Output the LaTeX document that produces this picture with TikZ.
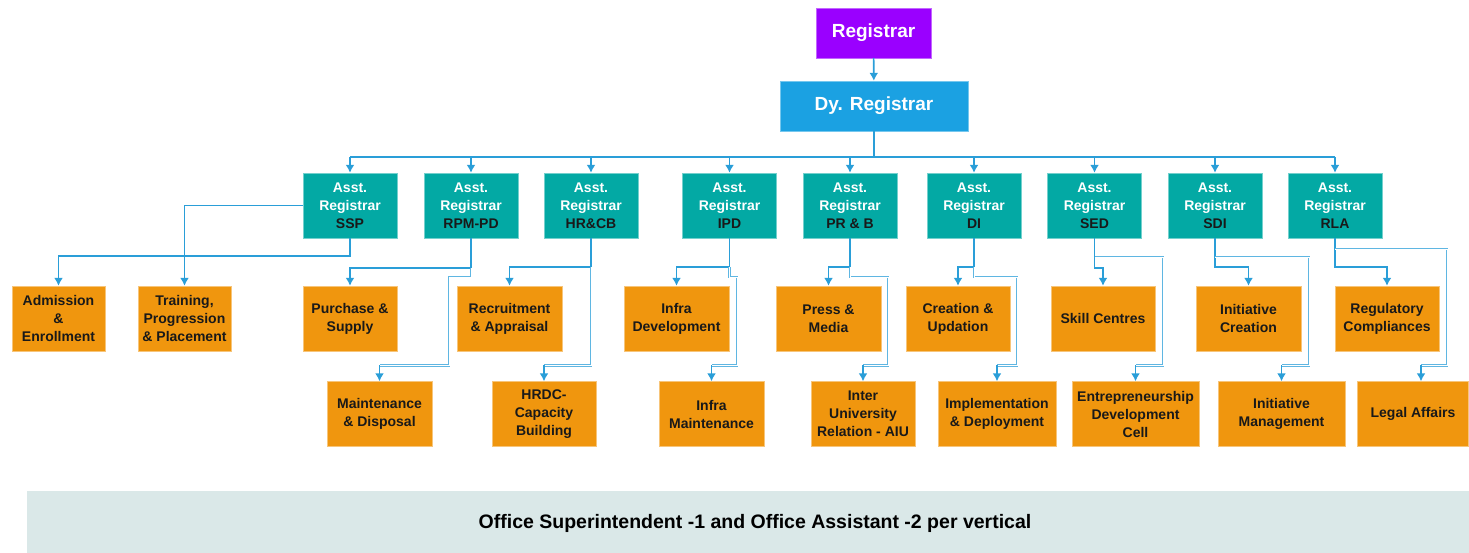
\documentclass[tikz,border=0pt]{standalone}
\usepackage{fontspec}
\setmainfont{Liberation Sans}
\usetikzlibrary{arrows.meta}

\definecolor{regpurple}{HTML}{9A00FF}
\definecolor{dyblue}{HTML}{1BA1E2}
\definecolor{asstteal}{HTML}{03A9A4}
\definecolor{unitorange}{HTML}{F0960E}
\definecolor{linkblue}{HTML}{2A9ED8}
\definecolor{bannergrey}{HTML}{DAE8E8}

\begin{document}
\begin{tikzpicture}[x = 1pt, y = -1pt, > = {Latex[length = 8pt, width = 9pt]},
	topbox/.style = {draw = #1!60!white, fill = #1, text = white, inner sep = 0pt, minimum height = 50pt, font = \bfseries\fontsize{19}{22}\selectfont},
	asst/.style = {draw = asstteal!55!white, fill = asstteal, text = white, align = center, inner sep = 0pt, minimum width = 94pt, minimum height = 65pt, font = \bfseries\fontsize{14}{18}\selectfont},
	unit/.style = {draw = unitorange!55!white, fill = unitorange, text = black!90, align = center, inner sep = 0pt, minimum height = 65pt, font = \bfseries\fontsize{14}{18}\selectfont},
	link/.style = {draw = linkblue, line width = 1.6pt},
	feed/.style = {draw = linkblue!75!white, double = white, double distance = 0.8pt, line width = 0.8pt}]

	\useasboundingbox (0, 0) rectangle (1469, 553);

	% Registrar and deputy
	
	\node [topbox = regpurple, minimum width = 115pt] (registrar) at (873.5, 33) {Registrar};
	\node [topbox = dyblue, minimum width = 188pt] (dyreg) at (874, 106) {Dy. Registrar};
	
	\draw [link, ->] (registrar) -- (dyreg);

	% Assistant registrars
	
	\foreach \id/\code/\x in {ssp/SSP/350, rpm/RPM-PD/471, hrcb/HR\&CB/591, ipd/IPD/729.5, prb/PR \& B/850, di/DI/974, sed/SED/1094.5, sdi/SDI/1215, rla/RLA/1335}
	{
		\node [asst] (\id) at (\x, 205.5) {Asst.\\Registrar\\{\color{black!90}\code}};
	}
	
	\coordinate (bus) at (0, 157);
	
	\draw [link] (dyreg.south) -- (dyreg.south |- bus);
	\draw [link] (ssp.north |- bus) -- (rla.north |- bus);
	
	\foreach \id in {ssp, rpm, hrcb, ipd, prb, di, sed, sdi, rla}
	{
		\draw [link, ->] (\id.north |- bus) -- (\id.north);
	}

	% Sections, first row
	
	\node [unit, minimum width = 93pt] (admission) at (58.5, 318.5) {Admission\\\&\\Enrollment};
	\node [unit, minimum width = 93pt] (training) at (184.5, 318.5) {Training,\\Progression\\\& Placement};
	\node [unit, minimum width = 94pt] (purchase) at (350, 318.5) {Purchase \&\\Supply};
	\node [unit, minimum width = 105pt] (recruit) at (509.5, 318.5) {Recruitment\\\& Appraisal};
	\node [unit, minimum width = 105pt] (infradev) at (676.5, 318.5) {Infra\\Development};
	\node [unit, minimum width = 105pt] (press) at (828.5, 318.5) {Press \&\\Media};
	\node [unit, minimum width = 104pt] (creation) at (958, 318.5) {Creation \&\\Updation};
	\node [unit, minimum width = 104pt] (skill) at (1103, 318.5) {Skill Centres};
	\node [unit, minimum width = 105pt] (initcreate) at (1248.5, 318.5) {Initiative\\Creation};
	\node [unit, minimum width = 104pt] (regulatory) at (1387, 318.5) {Regulatory\\Compliances};

	% Sections, second row
	
	\node [unit, minimum width = 105pt] (maintain) at (379.5, 414) {Maintenance\\\& Disposal};
	\node [unit, minimum width = 104pt] (hrdc) at (544, 414) {HRDC-\\Capacity\\Building};
	\node [unit, minimum width = 105pt] (inframaint) at (711.5, 414) {Infra\\Maintenance};
	\node [unit, minimum width = 104pt] (interuni) at (863, 414) {Inter\\University\\Relation - AIU};
	\node [unit, minimum width = 118pt] (implement) at (997, 414) {Implementation\\\& Deployment};
	\node [unit, minimum width = 127pt] (entre) at (1135.5, 414) {Entrepreneurship\\Development\\Cell};
	\node [unit, minimum width = 127pt] (initmgmt) at (1281.5, 414) {Initiative\\Management};
	\node [unit, minimum width = 111pt] (legal) at (1413, 414) {Legal Affairs};

	% Links to the first row
	
	\draw [link, ->] (ssp.west) -| (training.north);
	\draw [link, ->] (ssp.south) -- ++(0, 18) -| (admission.north);
	\draw [link, ->] (rpm.south) -- ++(0, 30) -| (purchase.north);
	\draw [link, ->] (hrcb.south) -- ++(0, 29) -| (recruit.north);
	\draw [link, ->] (ipd.south) -- ++(0, 29) -| (infradev.north);
	\draw [link, ->] (prb.south) -- ++(0, 29) -| (press.north);
	\draw [link, ->] (di.south) -- ++(0, 29) -| (creation.north);
	\draw [link, ->] (sed.south) -- ++(0, 30) -| (skill.north);
	\draw [link, ->] (sdi.south) -- ++(0, 29) -| (initcreate.north);
	\draw [link, ->] (rla.south) -- ++(0, 29) -| (regulatory.north);

	% Links to the second row
	
	\draw [feed] (rpm.south) ++(0, 30) -- ++(0, 9) -- ++(-22, 0) |- ([yshift = 16pt] maintain.north);
	\draw [feed] (hrcb.south) ++(0, 29) |- ([yshift = 16pt] hrdc.north);
	\draw [feed] (ipd.south) ++(0, 29) -- ++(0, 10) -- ++(7.5, 0) |- ([yshift = 16pt] inframaint.north);
	\draw [feed] (prb.south) ++(0, 29) -- ++(0, 10) -- ++(38, 0) |- ([yshift = 16pt] interuni.north);
	\draw [feed] (di.south) ++(0, 29) -- ++(0, 10) -- ++(43, 0) |- ([yshift = 16pt] implement.north);
	\draw [feed] (sed.south) ++(0, 19) -- ++(68.5, 0) |- ([yshift = 16pt] entre.north);
	\draw [feed] (sdi.south) ++(0, 19) -- ++(94, 0) |- ([yshift = 16pt] initmgmt.north);
	\draw [feed] (rla.south) ++(0, 11) -- ++(112, 0) |- ([xshift = 8pt, yshift = 16pt] legal.north);
	
	\begin{scope}[link, ->]
	
		\draw ([yshift = 16pt] maintain.north) -- (maintain.north);
		\draw ([yshift = 16pt] hrdc.north) -- (hrdc.north);
		\draw ([yshift = 16pt] inframaint.north) -- (inframaint.north);
		\draw ([yshift = 16pt] interuni.north) -- (interuni.north);
		\draw ([yshift = 16pt] implement.north) -- (implement.north);
		\draw ([yshift = 16pt] entre.north) -- (entre.north);
		\draw ([yshift = 16pt] initmgmt.north) -- (initmgmt.north);
		\draw ([xshift = 8pt, yshift = 16pt] legal.north) -- ([xshift = 8pt] legal.north);
	
	\end{scope}

	% Staff note
	
	\fill [bannergrey] (27, 491) rectangle (1469, 553);
	\node [font = \bfseries\fontsize{19.5}{22}\selectfont] (note) at (755, 523) {Office Superintendent -1 and Office Assistant -2 per vertical};

\end{tikzpicture}
\end{document}
